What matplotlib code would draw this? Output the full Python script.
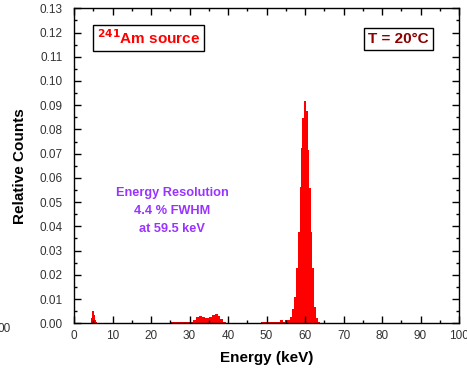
"""
Am-241 gamma spectrum at T = 20 C: relative counts vs energy,
drawn as filled histogram steps.
"""

import matplotlib
matplotlib.use('Agg')
import matplotlib.pyplot as plt
from matplotlib.ticker import MultipleLocator, FormatStrFormatter

plt.rcParams['font.family'] = ['Liberation Sans', 'DejaVu Sans']

# ---- data (energy in keV, relative counts) ----
# escape / low-energy peak near 5 keV
esc_edges = [4.4, 4.75, 5.1, 5.45, 5.75, 6.0]
esc_counts = [0.002, 0.005, 0.0035, 0.0015, 0.0004]

# Np L x-ray region (25-40 keV)
lx_edges = [25.0, 31.0, 31.8, 32.5, 33.2, 34.0, 35.0, 35.8, 36.5, 37.3,
            38.0, 38.8, 39.5, 40.0]
lx_counts = [0.0006, 0.0015, 0.0026, 0.0030, 0.0026, 0.0021, 0.0026,
             0.0034, 0.0037, 0.0030, 0.0016, 0.0007, 0.0003]

# 59.5 keV photopeak
pk_edges = [48.6, 53.5, 54.2, 54.9, 55.4, 56.2, 56.7, 57.2, 57.7, 58.2,
            58.6, 59.0, 59.3, 59.7, 60.3, 60.8, 61.1, 61.5, 61.8, 62.4,
            62.9, 63.4, 63.9]
pk_counts = [0.0005, 0.0013, 0.0006, 0.0012, 0.0012, 0.0026, 0.0060,
             0.0109, 0.0228, 0.0378, 0.0564, 0.0723, 0.0847, 0.0918,
             0.0877, 0.0716, 0.0559, 0.0378, 0.0228, 0.0067, 0.0020,
             0.0005]

FILL = '#ff0000'
TICK_COLOR = '#333333'

fig = plt.figure(figsize=(4.67, 3.69), dpi=100)
ax = fig.add_axes([74 / 467, 1 - 323.3 / 369, 385 / 467, 315 / 369])

for edges, counts in [(esc_edges, esc_counts),
                      (lx_edges, lx_counts),
                      (pk_edges, pk_counts)]:
    ax.stairs(counts, edges, fill=True, color=FILL, lw=0)

ax.set_xlim(0, 100)
ax.set_ylim(0, 0.13)

ax.xaxis.set_major_locator(MultipleLocator(10))
ax.xaxis.set_minor_locator(MultipleLocator(5))
ax.yaxis.set_major_locator(MultipleLocator(0.01))
ax.yaxis.set_minor_locator(MultipleLocator(0.005))
ax.yaxis.set_major_formatter(FormatStrFormatter('%.2f'))

ax.tick_params(which='both', direction='in', top=True, right=True,
               width=1.0, colors='black', labelcolor=TICK_COLOR,
               labelsize=8.5)
ax.tick_params(which='major', length=5)
ax.tick_params(which='minor', length=2.5)
ax.tick_params(axis='x', which='major', pad=5)
ax.tick_params(axis='y', which='major', pad=8)
for sp in ax.spines.values():
    sp.set_linewidth(1.0)

ax.set_xlabel('Energy (keV)', fontsize=11, fontweight='bold', labelpad=6)
ax.set_ylabel('Relative Counts', fontsize=11, fontweight='bold',
              labelpad=9)

# annotations
ax.text(0.194, 0.906, r'$^{\mathbf{241}}$Am source', transform=ax.transAxes,
        ha='center', va='center', fontsize=11, fontweight='bold',
        color=FILL,
        bbox=dict(boxstyle='square,pad=0.25', fc='white', ec='black',
                  lw=1.0))
ax.text(0.843, 0.902, 'T = 20°C', transform=ax.transAxes,
        ha='center', va='center', fontsize=11, fontweight='bold',
        color='#8b0000',
        bbox=dict(boxstyle='square,pad=0.25', fc='white', ec='black',
                  lw=1.0))
ax.text(0.255, 0.357, 'Energy Resolution\n4.4 % FWHM\nat 59.5 keV',
        transform=ax.transAxes, ha='center', va='center', fontsize=9.2,
        fontweight='bold', color='#9933ff', linespacing=1.65)

# stray tick label from the neighbouring panel, cut at the left edge
fig.text(11 / 467, 1 - 329 / 369, '00', ha='right', va='center',
         fontsize=8.5, color=TICK_COLOR)

fig.savefig('out.png', dpi=100)
